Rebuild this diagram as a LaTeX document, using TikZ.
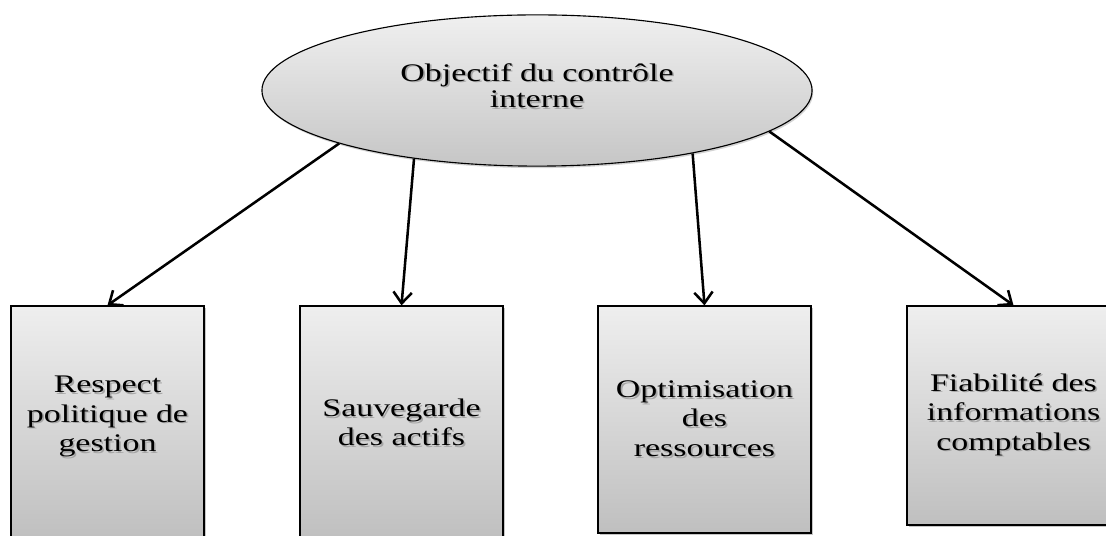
\documentclass[tikz,border=0pt]{standalone}
\usepackage{fontspec}
\setmainfont[FakeStretch=1.34]{Liberation Serif}
\usetikzlibrary{shapes.geometric,arrows.meta,shadows}
\newcommand\shtxt[1]{\makebox[0pt][l]{\hspace{1.2pt}\raisebox{-1.2pt}{\color{black!35}#1}}#1}
\begin{document}
\begin{tikzpicture}[x=0.025cm, y=-0.025cm,
    objbox/.style={draw, line width=0.9pt, top color=gray!13, bottom color=gray!50,
        align=center, inner sep=0pt, font=\fontsize{18}{21}\selectfont,
        drop shadow={shadow xshift=0.04cm, shadow yshift=-0.04cm, opacity=0.45}},
    link/.style={line width=1.8pt, -{Straight Barb[length=2.8mm, width=4.6mm, line width=1.8pt]}}]
    \useasboundingbox (0,0) rectangle (1106,536);
    \node[ellipse, draw, line width=0.8pt, top color=gray!12, bottom color=gray!45,
        minimum width=13.75cm, minimum height=3.78cm, inner sep=0pt, align=center,
        font=\fontsize{18}{19}\selectfont,
        drop shadow={shadow xshift=0.03cm, shadow yshift=-0.05cm, opacity=0.35}]
        (obj) at (537,90.5) {\mbox{}\\[-12pt]\shtxt{Objectif du contrôle}\\\shtxt{interne}};
    \node[objbox, minimum width=4.825cm, minimum height=5.85cm] (b1) at (107.5,423)
        {\shtxt{Respect}\\\shtxt{politique de}\\\shtxt{gestion}\\[-8pt]\mbox{}};
    \node[objbox, minimum width=5.075cm, minimum height=5.85cm] (b2) at (401.5,423)
        {\mbox{}\\[-8pt]\shtxt{Sauvegarde}\\\shtxt{des actifs}};
    \node[objbox, minimum width=5.325cm, minimum height=5.675cm] (b3) at (704.5,419.5)
        {\shtxt{Optimisation}\\\shtxt{des}\\\shtxt{ressources}};
    \node[objbox, minimum width=5.325cm, minimum height=5.475cm] (b4) at (1013.5,415.5)
        {\shtxt{Fiabilité des}\\\shtxt{informations}\\\shtxt{comptables}};
    \draw[link] (obj.195.4) -- (b1.north);
    \draw[link] (obj.209.7) -- (b2.north);
    \draw[link] (obj.338.5) -- (b3.north);
    \draw[link] (obj.350) -- (b4.north);
\end{tikzpicture}
\end{document}
